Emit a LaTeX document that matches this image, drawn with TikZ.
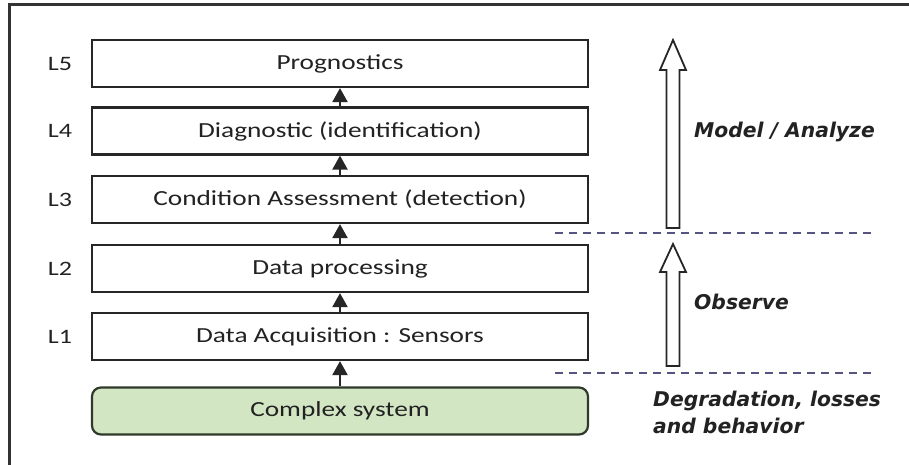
\documentclass[tikz,border=0pt]{standalone}
\usepackage{fontspec}
\setmainfont[FakeStretch=1.27]{Carlito}
\newfontfamily\notefont{DejaVu Sans}
\usetikzlibrary{arrows.meta}
\definecolor{boxline}{HTML}{262626}
\definecolor{sysfill}{HTML}{D3E6C3}
\definecolor{sysline}{HTML}{2F3A2B}
\definecolor{dashcol}{HTML}{55557F}
\definecolor{txt}{HTML}{222222}
\tikzset{
  level/.style={draw=boxline, line width=2.2pt, fill=white, minimum width=496pt, minimum height=47pt, inner sep=0pt, text=txt, font=\fontsize{21.5}{24}\selectfont},
  sysbox/.style={level, draw=sysline, fill=sysfill, rounded corners=9pt},
  lvlabel/.style={text=txt, font=\fontsize{20.5}{24}\selectfont, inner sep=0pt},
  smallarrow/.style={-{Triangle[width=15pt,length=14pt]}, line width=2.2pt, boxline},
  bigarrow/.style={draw=boxline, line width=1.8pt, fill=white},
  sep/.style={dashcol, line width=1.6pt, dash pattern=on 8pt off 6pt},
  note/.style={text=txt, font=\notefont\bfseries\itshape\fontsize{20.3}{27}\selectfont, inner sep=0pt, anchor=west, align=left}
}
\begin{document}
\begin{tikzpicture}[x=1pt,y=-1pt]
\useasboundingbox (0,0) rectangle (909,465);
\fill[white] (0,0) rectangle (909,465);
% frame
\draw[line width=2.2pt, black!80] (9.5,465) -- (9.5,4.5) -- (909,4.5);
% boxes
\node[level] (L5) at (340,63.5) {Prognostics};
\node[level] (L4) at (340,131) {Diagnostic (identification)};
\node[level] (L3) at (340,199.5) {Condition Assessment (detection)};
\node[level] (L2) at (340,268.5) {Data processing};
\node[level] (L1) at (340,336.5) {Data Acquisition : Sensors};
\node[sysbox] (sys) at (340,411) {Complex system};
% level labels
\node[lvlabel] (t5) at (60,63.5) {L5};
\node[lvlabel] (t4) at (60,131) {L4};
\node[lvlabel] (t3) at (60,199.5) {L3};
\node[lvlabel] (t2) at (60,268.5) {L2};
\node[lvlabel] (t1) at (60,336.5) {L1};
% small arrows
\draw[smallarrow] (sys.north) -- (L1.south);
\draw[smallarrow] (L1.north) -- (L2.south);
\draw[smallarrow] (L2.north) -- (L3.south);
\draw[smallarrow] (L3.north) -- (L4.south);
\draw[smallarrow] (L4.north) -- (L5.south);
% dashed separators
\coordinate (d1a) at (555,233);
\coordinate (d1b) at (875,233);
\coordinate (d2a) at (555,373);
\coordinate (d2b) at (875,373);
\draw[sep] (d1a) -- (d1b);
\draw[sep] (d2a) -- (d2b);
% big hollow arrows
\draw[bigarrow] (666.5,228) -- (666.5,70) -- (660,70) -- (673,40) -- (686,70) -- (679.5,70) -- (679.5,228) -- cycle;
\draw[bigarrow] (666.5,366) -- (666.5,272) -- (660,272) -- (673,244) -- (686,272) -- (679.5,272) -- (679.5,366) -- cycle;
% notes
\node[note] (n1) at (694,132) {Model / Analyze};
\node[note] (n2) at (694,302) {Observe};
\node[note] (n3) at (653,412) {Degradation, losses\\and behavior};
\end{tikzpicture}
\end{document}
